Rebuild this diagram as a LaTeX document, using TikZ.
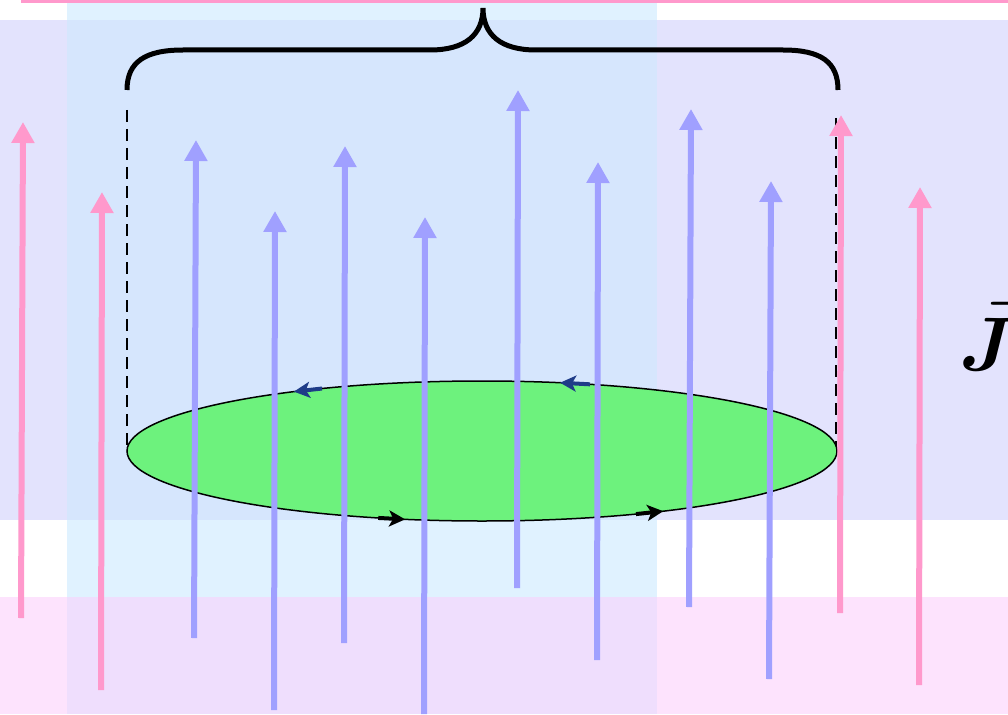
\documentclass[tikz,border=0pt]{standalone}
\usepackage{amsmath,bm}
\usetikzlibrary{arrows.meta}
\definecolor{lav}{RGB}{227,227,253}
\definecolor{pinkbg}{RGB}{253,227,253}
\definecolor{lblue}{RGB}{224,242,255}
\definecolor{ovlA}{RGB}{214,230,253}
\definecolor{ovlB}{RGB}{239,222,253}
\definecolor{pinkc}{RGB}{255,153,204}
\definecolor{bluec}{RGB}{160,160,255}
\definecolor{diskgreen}{RGB}{109,242,125}
\definecolor{dirblue}{RGB}{31,60,136}
\tikzset{
  fieldpink/.style={draw=pinkc, line width=6pt, -{Triangle[length=21pt,width=22pt]}},
  fieldblue/.style={draw=bluec, line width=6pt, -{Triangle[length=21pt,width=22pt]}},
  dashline/.style={draw=black, line width=2.5pt, dash pattern=on 12pt off 7pt},
  bracestyle/.style={draw=black, line width=5pt},
  dirarrow/.style={line width=4pt, -{Stealth[length=16pt,width=16pt,inset=4pt]}},
}
\begin{document}
\begin{tikzpicture}[x=1pt,y=-1pt]
\useasboundingbox (0,0) rectangle (1008,714);
\clip (0,0) rectangle (1008,714);
% backgrounds
\fill[white] (0,0) rectangle (1008,714);
\fill[lav] (0,20) rectangle (1008,520);
\fill[pinkbg] (0,597) rectangle (1008,714);
\fill[lblue] (67,0) rectangle (657,714);
\fill[ovlA] (67,20) rectangle (657,520);
\fill[ovlB] (67,597) rectangle (657,714);
\draw[pinkc, line width=3pt] (21,1.5) -- (1008,1.5);
% brace
\draw[bracestyle] (127,90) .. controls (127,62) and (145,50) .. (183,50) -- (430,50)
  .. controls (465,50) and (483,35) .. (483,8)
  .. controls (483,35) and (501,50) .. (536,50) -- (783,50)
  .. controls (821,50) and (838,62) .. (838,90);
% dashed sides
\coordinate (dl1) at (127,110);
\coordinate (dl2) at (127,451);
\coordinate (dr1) at (836,118);
\coordinate (dr2) at (836,451);
\draw[dashline] (dl1) -- (dl2);
\draw[dashline] (dr1) -- (dr2);
% disk
\coordinate (c) at (482,451);
\draw[fill=diskgreen, line width=1.5pt] (c) ellipse [x radius=355, y radius=70];
% circulation arrows
\begin{scope}[shift={(482,451)}]
\draw[dirarrow, dirblue] (-116.8:355 and 70) -- (-122:355 and 70);
\draw[dirarrow, dirblue] (-72.3:355 and 70) -- (-77.3:355 and 70);
\draw[dirarrow, black] (107:355 and 70) -- (102.5:355 and 70);
\draw[dirarrow, black] (64.3:355 and 70) -- (59.3:355 and 70);
\end{scope}
% field lines
\coordinate (p1a) at (21,618);  \coordinate (p1b) at (23,122);
\coordinate (p2a) at (101,690); \coordinate (p2b) at (102,192);
\coordinate (b1a) at (194,638); \coordinate (b1b) at (196,140);
\coordinate (b2a) at (274,710); \coordinate (b2b) at (275,211);
\coordinate (b3a) at (344,643); \coordinate (b3b) at (345,146);
\coordinate (b4a) at (424,714); \coordinate (b4b) at (425,217);
\coordinate (b5a) at (517,588); \coordinate (b5b) at (518,90);
\coordinate (b6a) at (597,660); \coordinate (b6b) at (598,162);
\coordinate (b7a) at (689,607); \coordinate (b7b) at (691,109);
\coordinate (b8a) at (769,679); \coordinate (b8b) at (771,181);
\coordinate (p3a) at (840,613); \coordinate (p3b) at (841,115);
\coordinate (p4a) at (919,685); \coordinate (p4b) at (920,187);
\draw[fieldpink] (p1a) -- (p1b);
\draw[fieldpink] (p2a) -- (p2b);
\draw[fieldblue] (b1a) -- (b1b);
\draw[fieldblue] (b2a) -- (b2b);
\draw[fieldblue] (b3a) -- (b3b);
\draw[fieldblue] (b4a) -- (b4b);
\draw[fieldblue] (b5a) -- (b5b);
\draw[fieldblue] (b6a) -- (b6b);
\draw[fieldblue] (b7a) -- (b7b);
\draw[fieldblue] (b8a) -- (b8b);
\draw[fieldpink] (p3a) -- (p3b);
\draw[fieldpink] (p4a) -- (p4b);
% label
\node[anchor=base west, inner sep=0pt, scale=7.6] (J) at (958,370) {$\vec{\bm J}$};
\end{tikzpicture}
\end{document}
